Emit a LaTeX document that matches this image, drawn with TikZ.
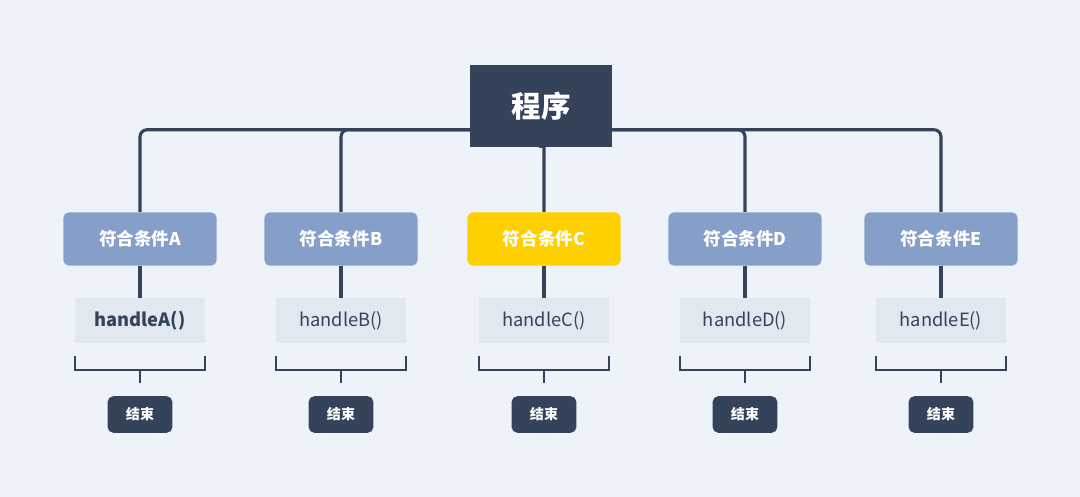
\documentclass[tikz,border=0pt]{standalone}
\usepackage{fontspec}
\setmainfont{Noto Sans CJK SC}
\usetikzlibrary{positioning}
\definecolor{bgcol}{HTML}{EDF3F9}
\definecolor{navy}{HTML}{34425A}
\definecolor{condblue}{HTML}{859FC8}
\definecolor{condyellow}{HTML}{FFD000}
\definecolor{handlebg}{HTML}{E2E8F0}
\tikzset{
    rootbox/.style={fill=navy, text=white, font=\fontsize{21}{24}\selectfont\bfseries,
        minimum width=101pt, minimum height=59pt, inner sep=0pt},
    condbox/.style={fill=condblue, text=white, rounded corners=4pt,
        font=\fontsize{12.5}{15}\selectfont\bfseries,
        minimum width=109pt, minimum height=38pt, inner sep=0pt},
    handlebox/.style={fill=handlebg, text=navy, font=\fontsize{13}{15}\selectfont,
        minimum width=92pt, minimum height=32pt, inner sep=0pt},
    endbox/.style={fill=navy, text=white, rounded corners=4pt,
        font=\fontsize{10}{12}\selectfont\bfseries,
        minimum width=46pt, minimum height=26pt, inner sep=0pt},
    link/.style={draw=navy, line width=2.2pt, rounded corners=5pt},
    bracket/.style={draw=navy, line width=1.6pt}
}
\begin{document}
\begin{tikzpicture}[x=0.025cm, y=-0.025cm]
    \fill[bgcol] (0,0) rectangle (1080,497);
    \useasboundingbox (0,0) rectangle (1080,497);

    \node[rootbox] (root) at (541,106) {程序};

    \foreach \n/\x/\c/\f in {A/140/condblue/\bfseries, B/341/condblue/, C/544/condyellow/,
                             D/745/condblue/, E/941/condblue/} {
        \node[condbox, fill=\c] (c\n) at (\x,239) {符合条件\n};
        \node[handlebox] (h\n) at (\x,320.5) {\f handle\n()};
        \node[endbox] (e\n) at (\x,414.5) {结束};
        \draw[link] (root.south) -- ++(0,-18) -| (c\n.north);
        \draw[link] (c\n.south) -- (h\n.north);
        % bracket under the handler
        \coordinate (bl\n) at (\x-65,356);
        \coordinate (br\n) at (\x+65,356);
        \coordinate (bm\n) at (\x,370);
        \draw[bracket] (bl\n) |- (bm\n) -| (br\n);
        \draw[bracket] (bm\n) -- ++(0,13) coordinate (bs\n);
    }
\end{tikzpicture}
\end{document}
